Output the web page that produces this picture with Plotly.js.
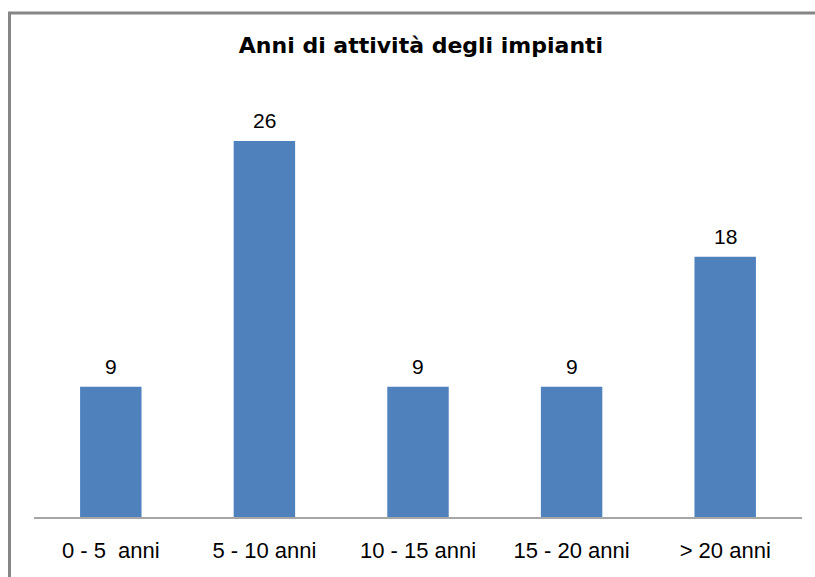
<!DOCTYPE html>
<html>
<head>
<meta charset="utf-8">
<script src="https://cdn.plot.ly/plotly-3.0.1.min.js"></script>
<style>html,body{margin:0;padding:0;background:#fff;}#chart{width:815px;height:577px;}</style>
</head>
<body>
<div id="chart"></div>
<script>
const categories = ["0 - 5 \u00a0anni", "5 - 10 anni", "10 - 15 anni", "15 - 20 anni", "> 20 anni"];
const values = [9, 26, 9, 9, 18];
const barColor = "#4F81BD";

const W = 815, H = 577;
const m = {l: 34, r: 13, t: 83, b: 60};
const pw = W - m.l - m.r, ph = H - m.t - m.b;
const px = x => (x - m.l) / pw;
const py = y => (H - m.b - y) / ph;

const trace = {
  type: "bar",
  x: categories,
  y: values,
  marker: {color: barColor},
  width: 0.4,
  hoverinfo: "none"
};

const annotations = categories.map((c, i) => ({
  x: c, y: values[i], xref: "x", yref: "y",
  text: String(values[i]), showarrow: false,
  yanchor: "bottom", yshift: 7,
  font: {family: "Arial, 'Liberation Sans', sans-serif", size: 21, color: "#000"}
}));

const layout = {
  width: W, height: H,
  margin: m,
  paper_bgcolor: "#fff", plot_bgcolor: "#fff",
  showlegend: false,
  title: {
    text: "Anni di attività degli impianti",
    font: {family: "'DejaVu Sans', sans-serif", size: 22, color: "#000", weight: 600},
    x: 421 / W, xanchor: "center", xref: "container",
    y: 1 - 45 / H, yanchor: "middle", yref: "container"
  },
  xaxis: {
    type: "category",
    showline: true, linecolor: "#A6A6A6", linewidth: 1.5,
    ticks: "", showgrid: false, zeroline: false,
    tickfont: {family: "Arial, 'Liberation Sans', sans-serif", size: 22, color: "#000"},
    ticklabelstandoff: 13,
    fixedrange: true
  },
  yaxis: {
    range: [0, ph / 14.46],
    showline: false, showgrid: false, zeroline: false,
    showticklabels: false, ticks: "",
    fixedrange: true
  },
  annotations: annotations,
  shapes: [
    {type: "line", xref: "paper", yref: "paper", x0: px(9.5), x1: px(9.5), y0: py(13), y1: py(600),
     line: {color: "#868686", width: 3}},
    {type: "line", xref: "paper", yref: "paper", x0: px(8), x1: px(830), y0: py(13), y1: py(13),
     line: {color: "#868686", width: 3}}
  ]
};

Plotly.newPlot("chart", [trace], layout, {displayModeBar: false, staticPlot: true});
</script>
</body>
</html>
